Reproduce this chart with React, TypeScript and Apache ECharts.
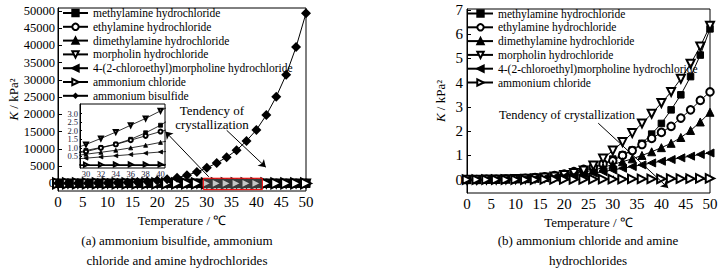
import React, { useEffect, useRef } from "react";
import * as echarts from "echarts";

const FONT = "Liberation Serif";

const temps = [0, 2, 4, 6, 8, 10, 12, 14, 16, 18, 20, 22, 24, 26, 28, 30, 32, 34, 36, 38, 40, 42, 44, 46, 48, 50];

const names = [
  "methylamine hydrochloride",
  "ethylamine hydrochloride",
  "dimethylamine hydrochloride",
  "morpholin hydrochloride",
  "4-(2-chloroethyl)morpholine hydrochloride",
  "ammonium chloride",
  "ammonium bisulfide",
];

const methylamine = [0.0, 0.0, 0.01, 0.01, 0.02, 0.03, 0.05, 0.07, 0.1, 0.14, 0.19, 0.26, 0.35, 0.47, 0.64, 0.85, 1.02, 1.22, 1.5, 1.88, 2.32, 2.88, 3.5, 4.25, 5.14, 6.22];
const ethylamine = [0.0, 0.0, 0.01, 0.02, 0.03, 0.04, 0.06, 0.09, 0.12, 0.17, 0.23, 0.33, 0.43, 0.53, 0.65, 0.78, 1.0, 1.2, 1.45, 1.7, 1.95, 2.2, 2.54, 2.88, 3.27, 3.62];
const dimethylamine = [0.0, 0.0, 0.01, 0.01, 0.02, 0.03, 0.04, 0.06, 0.09, 0.13, 0.18, 0.24, 0.31, 0.39, 0.5, 0.63, 0.74, 0.86, 1.0, 1.15, 1.32, 1.5, 1.74, 2.03, 2.38, 2.78];
const morpholin = [0.0, 0.0, 0.01, 0.01, 0.02, 0.03, 0.04, 0.06, 0.09, 0.13, 0.19, 0.27, 0.38, 0.58, 0.87, 1.2, 1.55, 1.92, 2.32, 2.72, 3.16, 3.62, 4.16, 4.78, 5.49, 6.35];
const chloroethyl = [0.0, 0.0, 0.01, 0.01, 0.02, 0.03, 0.04, 0.05, 0.07, 0.1, 0.13, 0.17, 0.22, 0.27, 0.33, 0.4, 0.47, 0.54, 0.61, 0.69, 0.76, 0.83, 0.9, 0.97, 1.04, 1.1];
const ammoniumChloride = [0.0, 0.0, 0.0, 0.0, 0.0, 0.0, 0.0, 0.0, 0.01, 0.01, 0.01, 0.01, 0.01, 0.02, 0.02, 0.02, 0.02, 0.03, 0.03, 0.03, 0.03, 0.04, 0.04, 0.04, 0.05, 0.05];
const bisulfide = [10, 20, 40, 60, 90, 130, 190, 270, 400, 580, 830, 1180, 1650, 2350, 3300, 4500, 5900, 7600, 9600, 12300, 15500, 19800, 25100, 31500, 39500, 49300];

const leftYTicks = [0, 5000, 10000, 15000, 20000, 25000, 30000, 35000, 40000, 45000, 50000];
const rightYTicks = [0, 1, 2, 3, 4, 5, 6, 7];
const insetXTicks = [30, 32, 34, 36, 38, 40];
const insetYTicks = [0, 0.5, 1, 1.5, 2, 2.5, 3, 3.5];

// annotation coordinates (data space)
const leftHighlight = [[29.3, 1500], [41.2, -1800]];
const leftInsetArrow = [[30.4, 1900], [21.65, 15000]];
const leftTrendArrow = [[34.0, 15400], [41.9, 4700]];
const rightTrendArrow = [[27.0, 2.33], [41.4, -0.34]];

const amineSeries = [
  { name: names[0], data: methylamine, symbol: "rect", rotate: 0, size: 6.5 },
  { name: names[1], data: ethylamine, symbol: "emptyCircle", rotate: 0, size: 7.5 },
  { name: names[2], data: dimethylamine, symbol: "triangle", rotate: 0, size: 8 },
  { name: names[3], data: morpholin, symbol: "emptyTriangle", rotate: 180, size: 8 },
  { name: names[4], data: chloroethyl, symbol: "triangle", rotate: 90, size: 8 },
  { name: names[5], data: ammoniumChloride, symbol: "emptyTriangle", rotate: -90, size: 8.5 },
];

const pairs = (arr: number[]) => temps.map((t, i) => [t, arr[i]]);

export default function App() {
  const ref = useRef<HTMLDivElement>(null);
  useEffect(() => {
    if (!ref.current) return;
    const chart = echarts.init(ref.current, undefined, { renderer: "svg" });
    const axisText = { color: "#000", fontFamily: FONT };
    const lineStyle = { color: "#000", width: 1 };
    const mkX = (gridIndex: number) => ({
      gridIndex,
      type: "value",
      min: 0,
      max: 50,
      interval: 5,
      axisLine: { show: true, lineStyle },
      axisTick: { show: true, inside: true, length: 4, lineStyle },
      minorTick: { show: true, splitNumber: 2, length: 2, lineStyle },
      splitLine: { show: false },
      axisLabel: { ...axisText, fontSize: 15, margin: 3 },
      name: "Temperature / ℃",
      nameLocation: "middle",
      nameGap: 21,
      nameTextStyle: { ...axisText, fontSize: 13 },
    });
    const yName = "{i|K} / kPa²";
    const yNameStyle = {
      ...axisText,
      fontSize: 13,
      rich: { i: { fontStyle: "italic", fontSize: 13, fontFamily: FONT, color: "#000" } },
    };

    const series: any[] = [];
    // right chart
    amineSeries.forEach((s, idx) => {
      const obj: any = {
        type: "line",
        name: s.name,
        xAxisIndex: 2,
        yAxisIndex: 2,
        data: pairs(s.data),
        symbol: s.symbol,
        symbolRotate: s.rotate,
        symbolSize: s.size,
        lineStyle,
        itemStyle: { color: "#000", borderColor: "#000", borderWidth: 1 },
        z: 3,
      };
      if (idx === 5) {
        obj.markLine = {
          silent: true,
          symbol: ["none", "arrow"],
          symbolSize: 7,
          lineStyle: { color: "#000", width: 1, type: "solid" },
          label: { show: false },
          data: [[{ coord: rightTrendArrow[0] }, { coord: rightTrendArrow[1] }]],
        };
      }
      series.push(obj);
    });
    // left main chart
    amineSeries.forEach((s, idx) => {
      series.push({
        type: "line",
        name: s.name,
        xAxisIndex: 0,
        yAxisIndex: 0,
        data: pairs(s.data),
        symbol: s.symbol,
        symbolRotate: s.rotate,
        symbolSize: idx === 5 ? 10 : s.size,
        lineStyle,
        itemStyle: { color: "#000", borderColor: "#000", borderWidth: 1 },
        z: 3,
      });
    });
    series.push({
      type: "line",
      name: names[6],
      xAxisIndex: 0,
      yAxisIndex: 0,
      data: pairs(bisulfide),
      symbol: "diamond",
      symbolSize: 10,
      lineStyle,
      itemStyle: { color: "#000" },
      z: 3,
      markLine: {
        silent: true,
        symbol: ["none", "arrow"],
        symbolSize: 7,
        lineStyle: { color: "#000", width: 1, type: "solid" },
        label: { show: false },
        data: [
          [{ coord: leftInsetArrow[0] }, { coord: leftInsetArrow[1] }],
          [{ coord: leftTrendArrow[0] }, { coord: leftTrendArrow[1] }],
        ],
      },
    });
    // inset
    amineSeries.forEach((s) => {
      series.push({
        type: "line",
        name: s.name,
        xAxisIndex: 1,
        yAxisIndex: 1,
        data: pairs(s.data),
        symbol: s.symbol,
        symbolRotate: s.rotate,
        symbolSize: 4,
        clip: true,
        lineStyle: { color: "#000", width: 0.8 },
        itemStyle: { color: "#000", borderColor: "#000", borderWidth: 0.8 },
        z: 12,
      });
    });

    const legendBase = {
      orient: "vertical",
      itemWidth: 25,
      itemHeight: 8,
      itemGap: 1.8,
      padding: 0,
      selectedMode: false,
      textStyle: { color: "#000", fontFamily: FONT, fontSize: 11.5 },
    };

    const text = (t: string, x: number, y: number, size: number) => ({
      type: "text",
      x,
      y,
      style: { text: t, fill: "#000", fontFamily: FONT, fontSize: size, align: "center", verticalAlign: "middle" },
      z: 20,
    });
    const texts = [
      text("Tendency of", 212, 110, 13),
      text("crystallization", 212, 124, 13),
      text("Tendency of crystallization", 567, 115, 12.5),
      text("(a) ammonium bisulfide, ammonium", 177, 240, 13),
      text("chloride and amine hydrochlorides", 177, 260, 13),
      text("(b) ammonium chloride and amine", 588, 240, 13),
      text("hydrochlorides", 588, 260, 13),
    ];

    chart.setOption({
      animation: false,
      backgroundColor: "#fff",
      textStyle: { fontFamily: FONT },
      grid: [
        { left: 58, top: 8, width: 248, height: 183, show: true, borderColor: "#000", borderWidth: 1, backgroundColor: "transparent" },
        { left: 80, top: 104, width: 85, height: 64, show: true, borderColor: "#000", borderWidth: 1, backgroundColor: "#fff", z: 10 },
        { left: 467, top: 9, width: 243, height: 184, show: true, borderColor: "#000", borderWidth: 1 },
      ],
      xAxis: [
        mkX(0),
        {
          gridIndex: 1,
          type: "value",
          min: 29.2,
          max: 40.6,
          z: 11,
          axisLine: { show: true, lineStyle },
          axisTick: { show: true, inside: true, length: 2, customValues: insetXTicks, lineStyle },
          splitLine: { show: false },
          axisLabel: { color: "#1c1c3c", fontFamily: FONT, fontSize: 8.5, margin: 1, customValues: insetXTicks },
        },
        mkX(2),
      ],
      yAxis: [
        {
          gridIndex: 0,
          type: "value",
          min: -2200,
          max: 50800,
          axisLine: { show: true, lineStyle },
          axisTick: { show: true, inside: true, length: 4, customValues: leftYTicks, lineStyle },
          splitLine: { show: false },
          axisLabel: { ...axisText, fontSize: 12.5, margin: 3, customValues: leftYTicks, formatter: (v: number) => String(v) },
          name: yName,
          nameLocation: "middle",
          nameGap: 30,
          nameRotate: 90,
          nameTextStyle: yNameStyle,
        },
        {
          gridIndex: 1,
          type: "value",
          min: -0.175,
          max: 3.56,
          z: 11,
          axisLine: { show: true, lineStyle },
          axisTick: { show: true, inside: true, length: 2, customValues: insetYTicks, lineStyle },
          splitLine: { show: false },
          axisLabel: {
            color: "#1c1c3c",
            fontFamily: FONT,
            fontSize: 8.5,
            margin: 2,
            customValues: insetYTicks,
            formatter: (v: number) => v.toFixed(1),
          },
        },
        {
          gridIndex: 2,
          type: "value",
          min: -0.55,
          max: 7.04,
          axisLine: { show: true, lineStyle },
          axisTick: { show: true, inside: true, length: 4, customValues: rightYTicks, lineStyle },
          splitLine: { show: false },
          axisLabel: { ...axisText, fontSize: 15, margin: 4, customValues: rightYTicks },
          name: yName,
          nameLocation: "middle",
          nameGap: 20,
          nameRotate: 90,
          nameTextStyle: yNameStyle,
        },
      ],
      legend: [
        { ...legendBase, left: 62, top: 7, data: names },
        { ...legendBase, left: 467, top: 7.5, data: names.slice(0, 6) },
      ],
      graphic: texts,
      series,
    });

    const p1 = chart.convertToPixel({ xAxisIndex: 0, yAxisIndex: 0 } as any, leftHighlight[0]) as number[];
    const p2 = chart.convertToPixel({ xAxisIndex: 0, yAxisIndex: 0 } as any, leftHighlight[1]) as number[];
    if (p1 && p2 && isFinite(p1[0]) && isFinite(p2[1])) {
      chart.setOption({
        graphic: [
          ...texts,
          {
            type: "rect",
            shape: {
              x: Math.min(p1[0], p2[0]),
              y: Math.min(p1[1], p2[1]),
              width: Math.abs(p2[0] - p1[0]),
              height: Math.abs(p2[1] - p1[1]),
            },
            style: { fill: "rgba(128,128,128,0.45)", stroke: "#ff0000", lineWidth: 1 },
            z: 50,
          },
        ],
      });
    }
    return () => chart.dispose();
  }, []);
  return <div ref={ref} style={{ position: "absolute", left: 0, top: 0, width: 721, height: 270 }} />;
}
